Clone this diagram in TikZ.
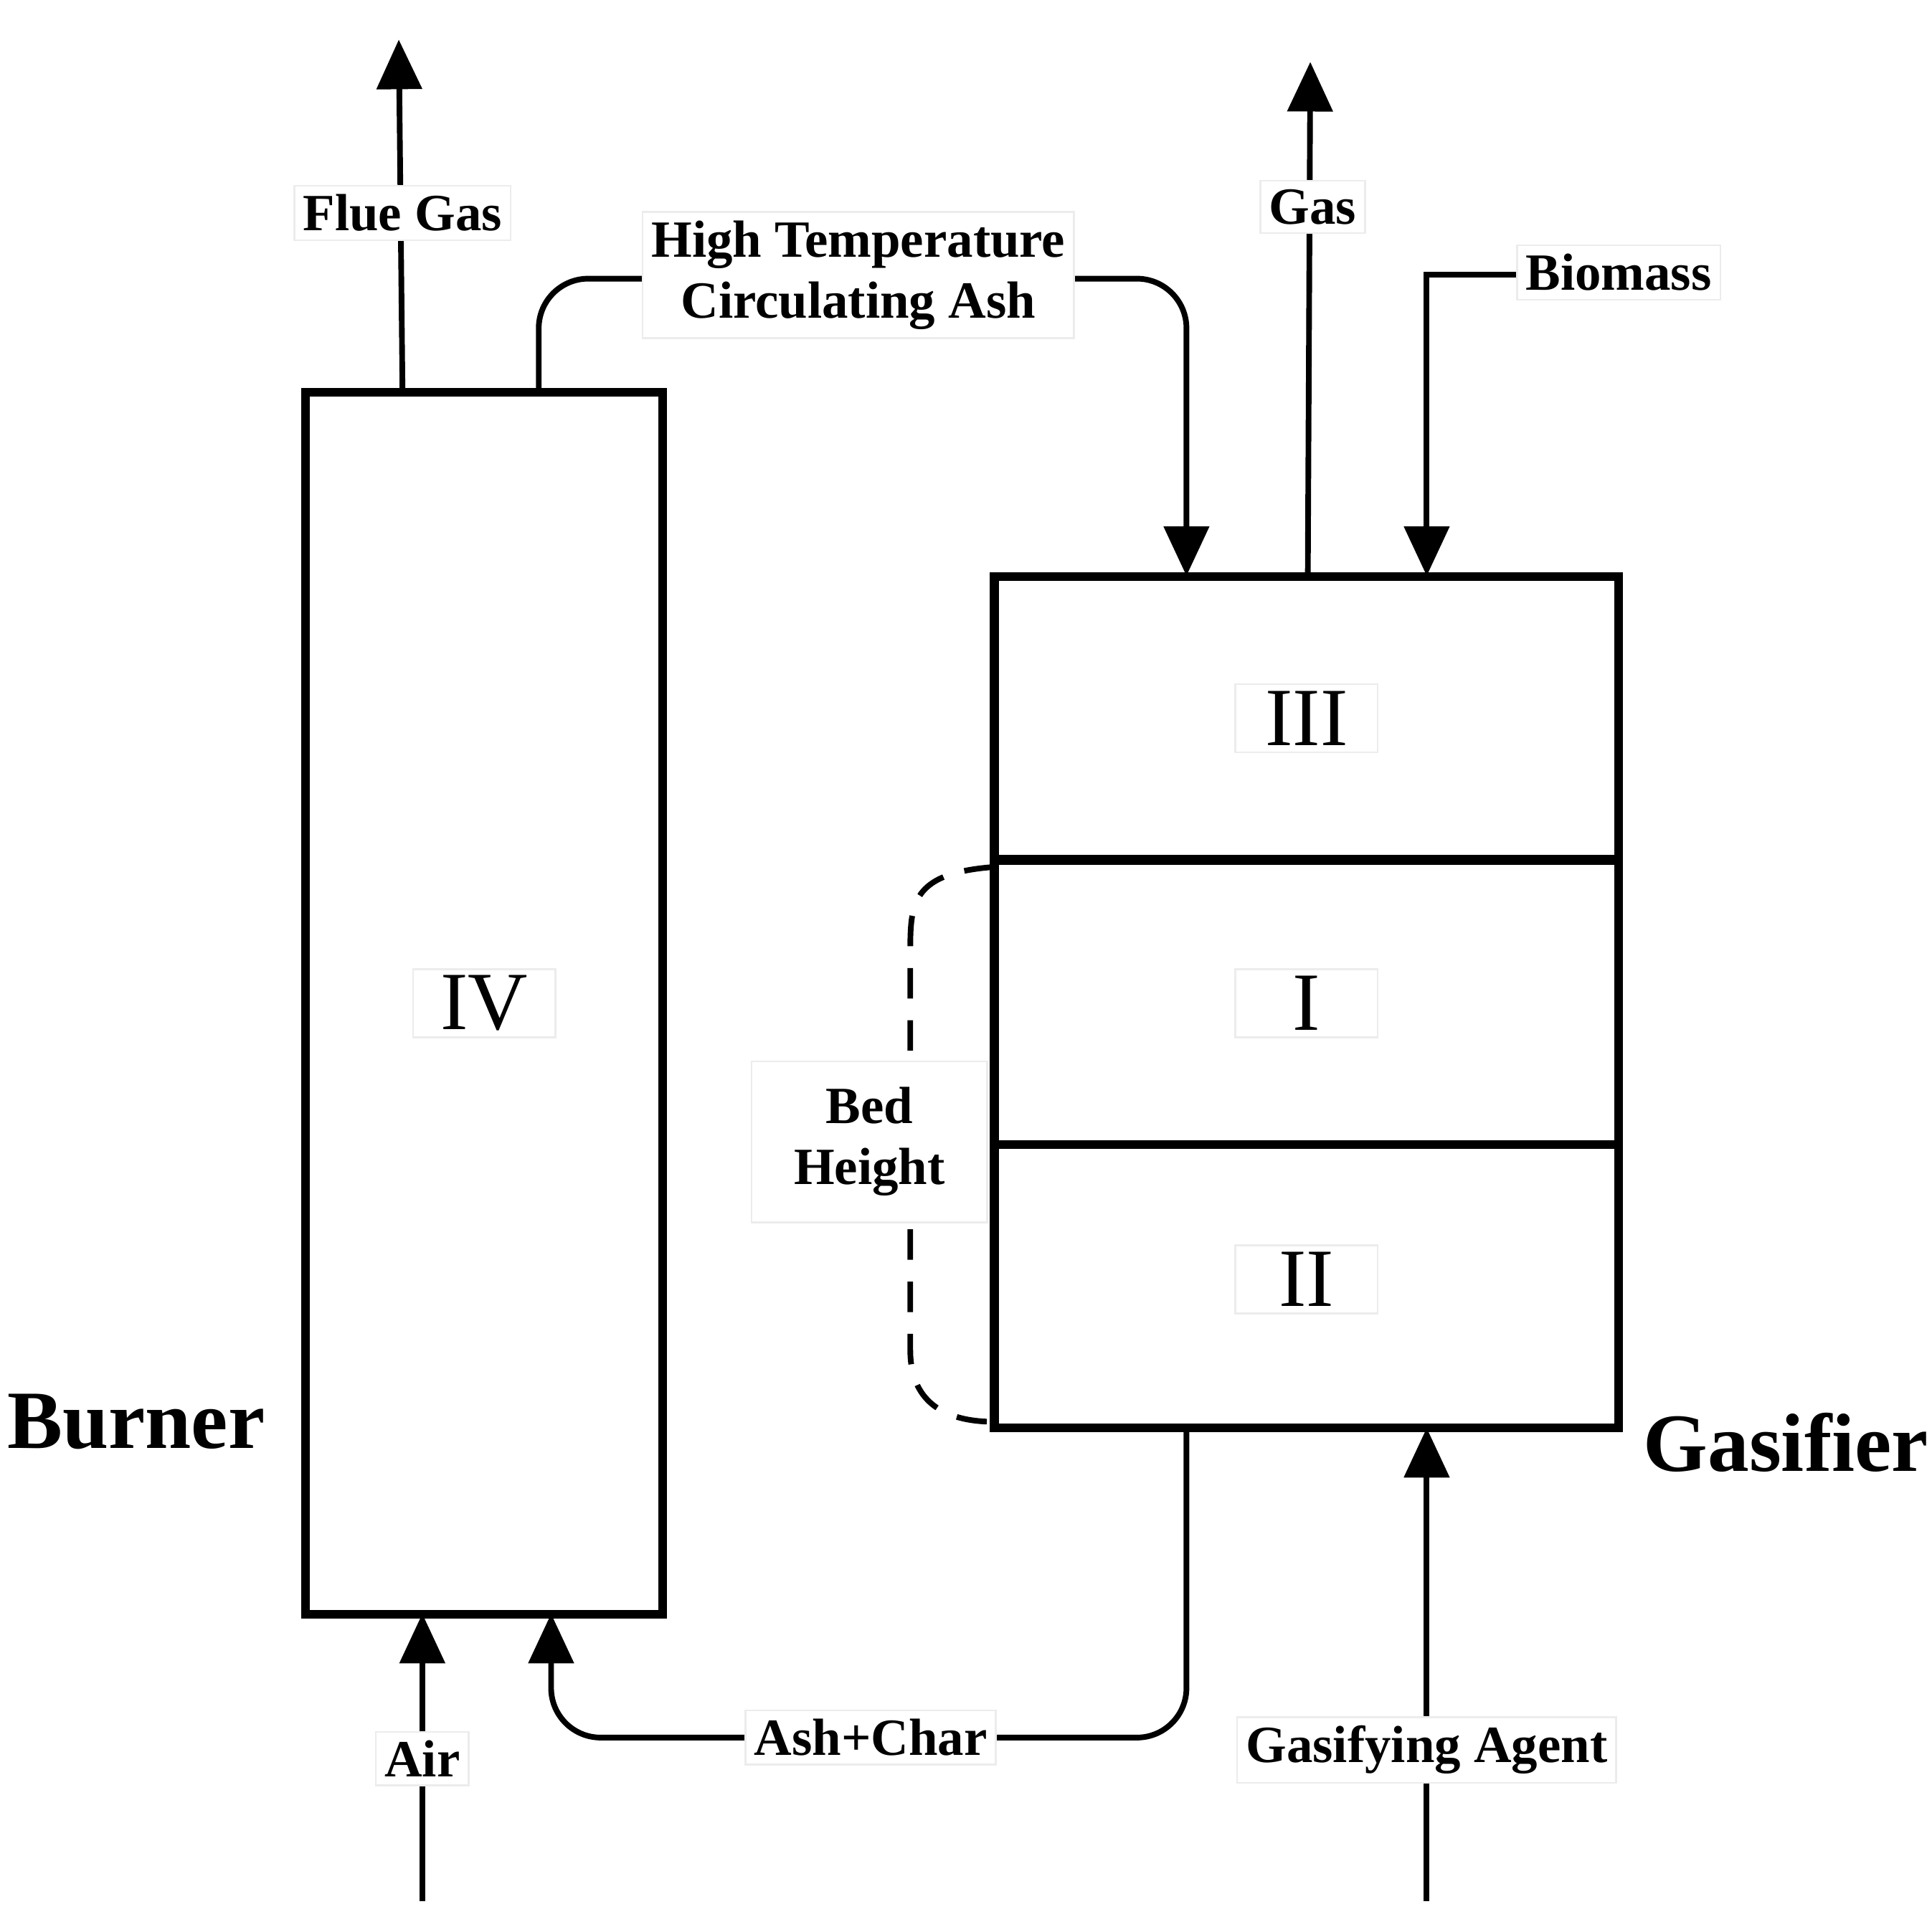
\documentclass[tikz,border=0pt]{standalone}
\usepackage{fontspec}
\setmainfont{Liberation Serif}
\usetikzlibrary{arrows.meta}
\begin{document}
\begin{tikzpicture}[x=0.01cm,y=-0.01cm,
  box/.style={line width=2pt},
  flow/.style={line width=1.3pt,-{Triangle[width=0.36cm,length=0.4cm]}},
  lab/.style={fill=white,draw=gray!15,font=\bfseries\fontsize{12}{14}\selectfont,align=center,inner sep=2pt},
  num/.style={fill=white,draw=gray!15,font=\fontsize{19}{21}\selectfont,minimum width=1.15cm,minimum height=0.55cm,inner sep=1pt},
  big/.style={font=\bfseries\fontsize{19}{21}\selectfont}]
\useasboundingbox (0,0) rectangle (1560,1560);
\node[draw,box,minimum width=2.88cm,minimum height=9.86cm,inner sep=0] (burner) at (391,810) {};
\node[draw,box,minimum width=5.04cm,minimum height=2.29cm,inner sep=0] (z3) at (1055,580) {};
\node[draw,box,minimum width=5.04cm,minimum height=2.30cm,inner sep=0] (z1) at (1055,809) {};
\node[draw,box,minimum width=5.04cm,minimum height=2.29cm,inner sep=0] (z2) at (1055,1038.5) {};
\node[num] (n4) at (391,810) {IV};
\node[num] (n3) at (1055,580) {III};
\node[num] (n1) at (1055,810) {I};
\node[num] (n2) at (1055,1033) {II};
\coordinate (fgt) at (322,32);
\coordinate (fgb) at (325,317);
\draw[flow] (fgb) -- (fgt);
\node[lab] at (325,172) {Flue Gas};
\coordinate (hs) at (435,317);
\coordinate (he) at (958,465);
\draw[flow,rounded corners=0.4cm] (hs) -- (435,225) -- (958,225) -- (he);
\node[lab] at (693,222) {High Temperature\\Circulating Ash};
\coordinate (gb) at (1056,465);
\coordinate (gt) at (1058,50);
\draw[flow] (gb) -- (gt);
\node[lab] at (1060,167) {Gas};
\coordinate (bs) at (1232,222);
\coordinate (be) at (1152,465);
\draw[flow] (bs) -- (1152,222) -- (be);
\node[lab] at (1307,220) {Biomass};
\coordinate (d1) at (803,700);
\coordinate (d2) at (803,1148);
\draw[line width=1.3pt,dash pattern=on 7pt off 5pt] (d1) .. controls (735,705) and (735,730) .. (735,770) -- (735,1090) .. controls (735,1130) and (760,1148) .. (d2);
\node[lab,minimum width=1.9cm,minimum height=1.3cm] at (702,922) {Bed\\Height};
\coordinate (as) at (958,1153);
\coordinate (ae) at (445,1303);
\draw[flow,rounded corners=0.4cm] (as) -- (958,1403) -- (445,1403) -- (ae);
\node[lab] at (703,1403) {Ash+Char};
\coordinate (ab) at (341,1535);
\coordinate (at) at (341,1303);
\draw[flow] (ab) -- (at);
\node[lab] at (341,1420) {Air};
\coordinate (gab) at (1152,1535);
\coordinate (gat) at (1152,1153);
\draw[flow] (gab) -- (gat);
\node[lab] at (1152,1413) {Gasifying Agent};
\node[big] at (110,1148) {Burner};
\node[big] at (1442,1165) {Gasifier};
\end{tikzpicture}
\end{document}
